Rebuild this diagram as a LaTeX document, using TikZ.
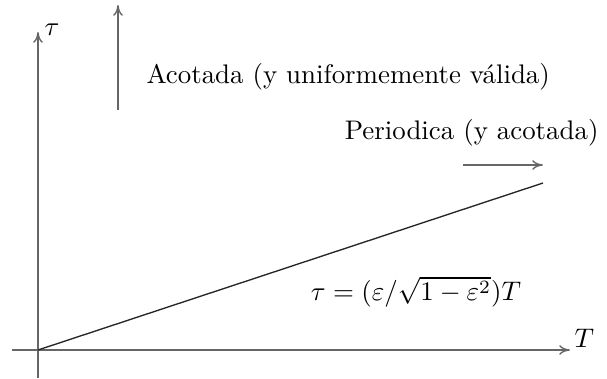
\documentclass[tikz,border=0pt]{standalone}
\usepackage{amsmath}
\usetikzlibrary{arrows.meta,positioning,calc}

\begin{document}
\begin{tikzpicture}[x=0.372pt, y=-0.372pt,
        axis/.style={-{To[length=1.4mm, width=1.25mm]}, black!60, line width=0.5pt},
        arr/.style={-{To[length=1.4mm, width=1.25mm]}, black!60, line width=0.5pt},
        lbl/.style={inner sep=0pt, font=\normalsize}]
        \useasboundingbox (0,0) rectangle (607,379);
        % ejes
        \coordinate (o) at (38,350);
        \coordinate (xa) at (12,350);
        \coordinate (xb) at (570,350);
        \coordinate (ya) at (38,378);
        \coordinate (yb) at (38,32);
        \draw[axis] (xa) -- (xb);
        \draw[axis] (ya) -- (yb);
        \node[lbl, anchor=south west] (tl) at (44,36) {$\tau$};
        \node[lbl, anchor=south west] (Tl) at (574,348) {$T$};
        % zonas
        \coordinate (va) at (118,110);
        \coordinate (vb) at (118,5);
        \draw[arr] (va) -- (vb);
        \node[lbl, anchor=west] (acot) at (146,77) {Acotada (y uniformemente válida)};
        \node[lbl, anchor=east] (per) at (599,133) {Periodica (y acotada)};
        \coordinate (ha) at (463,165);
        \coordinate (hb) at (543,165);
        \draw[arr] (ha) -- (hb);
        % recta
        \coordinate (r) at (543,183);
        \draw[black!85, line width=0.5pt] (o) -- (r);
        \node[lbl] (eq) at (416,292) {$\tau = (\varepsilon/\sqrt{1-\varepsilon^2})T$};
      \end{tikzpicture}
\end{document}
